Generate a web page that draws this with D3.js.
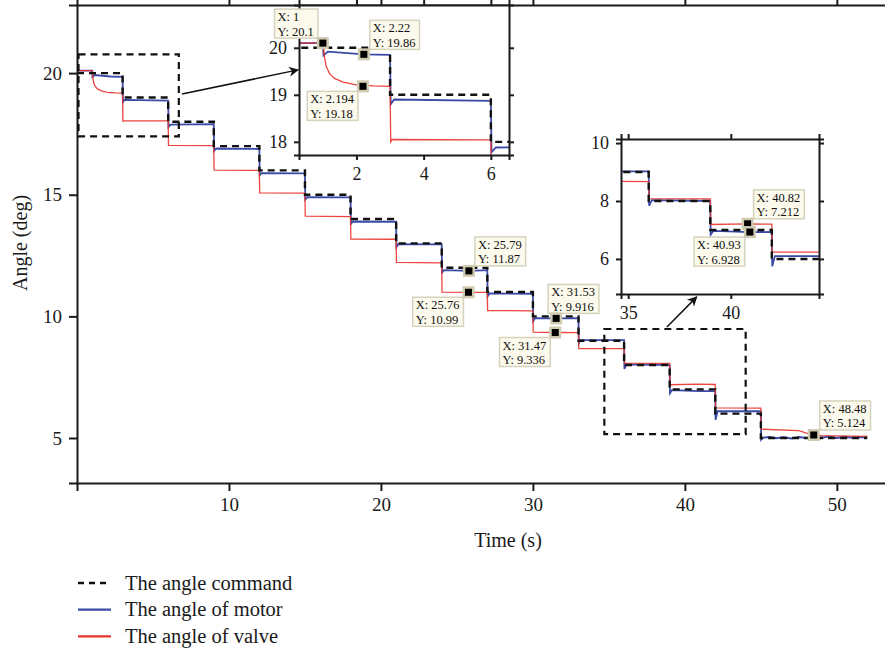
<!DOCTYPE html>
<html>
<head>
<meta charset="utf-8">
<script src="https://cdn.jsdelivr.net/npm/d3@7"></script>
<style>
body { margin: 0; background: #fff; }
svg { display: block; font-family: "Liberation Serif", "Times New Roman", serif; }
</style>
</head>
<body>
<div id="chart"></div>
<script>
// command: step times and levels (deg)
const commandTimes = [0, 3, 6, 9, 12, 15, 18, 21, 24, 27, 30, 33, 36, 39, 42, 45, 52]
const commandLevels = [20, 19, 18, 17, 16, 15, 14, 13, 12, 11, 10, 9, 8, 7, 6, 5]

// motor angle [t, deg]
const motorPoints = [
    [0, 20.1], [1, 20.1], [1.02, 19.84], [1.15, 19.92], [2.22, 19.86], [3, 19.85],
    [3.02, 18.8], [3.12, 18.9], [6, 18.87],
    [6.02, 17.78], [6.15, 17.88], [9, 17.9],
    [9.02, 16.8], [9.15, 16.9], [12, 16.88],
    [12.02, 15.8], [12.15, 15.89], [15, 15.88],
    [15.02, 14.8], [15.15, 14.9], [18, 14.89],
    [18.02, 13.8], [18.15, 13.9], [21, 13.89],
    [21.02, 12.85], [21.15, 12.97], [24, 12.96],
    [24.02, 11.8], [24.15, 11.9], [25.79, 11.87], [27, 11.9],
    [27.02, 10.82], [27.15, 10.94], [30, 10.93],
    [30.02, 9.8], [30.15, 9.93], [31.53, 9.916], [33, 9.93],
    [33.02, 8.9], [33.15, 9.02], [36, 9.02],
    [36.02, 7.84], [36.15, 8.03], [39, 8.0],
    [39.02, 6.84], [39.15, 6.97], [40.93, 6.928], [42, 6.93],
    [42.02, 5.75], [42.15, 6.1], [45, 6.1],
    [45.02, 4.93], [45.15, 5.02], [45.6, 5.04], [46, 4.99], [46.5, 5.03], [47, 4.98],
    [47.5, 5.04], [48, 5.0], [48.5, 5.05], [49, 5.01], [49.5, 5.06], [50, 5.0],
    [50.5, 5.05], [51, 5.01], [51.5, 5.04], [52, 5.03]
]

// valve angle [t, deg]
const valvePoints = [
    [0, 20.1], [1, 20.1], [1.05, 19.8], [1.1, 19.6], [1.2, 19.45], [1.35, 19.35],
    [1.6, 19.27], [2.0, 19.21], [2.5, 19.19], [3, 19.18],
    [3.02, 18.0], [3.06, 18.05], [6, 18.04],
    [6.02, 17.03], [9, 17.02],
    [9.02, 16.01], [12, 16.0],
    [12.02, 15.08], [15, 15.07],
    [15.02, 14.12], [18, 14.1],
    [18.02, 13.18], [21, 13.17],
    [21.02, 12.22], [24, 12.2],
    [24.02, 11.0], [25.76, 10.99], [27, 10.99],
    [27.02, 10.24], [30, 10.23],
    [30.02, 9.35], [31.47, 9.336], [33, 9.33],
    [33.02, 8.68], [36, 8.67],
    [36.02, 8.08], [39, 8.07],
    [39.02, 7.19], [40.82, 7.212], [42, 7.2],
    [42.02, 6.24], [45, 6.23],
    [45.02, 5.36], [47.5, 5.3], [48.2, 5.16], [48.48, 5.124], [49, 5.1], [52, 5.07]
]

const mainXTicks = [10, 20, 30, 40, 50]
const mainYTicks = [5, 10, 15, 20]
const inset1XTicks = [2, 4, 6]
const inset1YTicks = [18, 19, 20]
const inset2XTicks = [35, 40]
const inset2YTicks = [6, 8, 10]

// data tips: [x, y, placement]
const mainTips = [[25.79, 11.87, "ne"], [25.76, 10.99, "sw"], [31.53, 9.916, "n"], [31.47, 9.336, "sw"], [48.48, 5.124, "ne"]]
const inset1Tips = [[1, 20.1, "nw"], [2.22, 19.86, "ne"], [2.194, 19.18, "sw"]]
const inset2Tips = [[40.82, 7.212, "ne"], [40.93, 6.928, "sw"]]

// zoom boxes in main data coords [x0, x1, y0, y1]
const zoomBox1 = [0.1, 6.7, 17.4, 20.77]
const zoomBox2 = [34.7, 44.0, 5.16, 9.48]

const legendNames = ["The angle command", "The angle of motor", "The angle of valve"]

const blue = "#3a4aa6"
const red = "#e8322a"

const svg = d3.select("#chart").append("svg")
    .attr("width", 885)
    .attr("height", 652)

const defs = svg.append("defs")
defs.append("marker")
    .attr("id", "arrow")
    .attr("viewBox", "0 0 10 10")
    .attr("refX", 9).attr("refY", 5)
    .attr("markerWidth", 12).attr("markerHeight", 10)
    .attr("markerUnits", "userSpaceOnUse")
    .attr("orient", "auto")
    .append("path").attr("d", "M0,0 L10,5 L0,10 L3,5 z").attr("fill", "#111")

const commandPoints = commandTimes.map((t, i) => [t, commandLevels[Math.min(i, commandLevels.length - 1)]])

function drawPanel(g, x, y, id, xTicks, yTicks, fontSize, tickLen) {
    const [x0, x1] = x.range()
    const [y0, y1] = y.range()
    defs.append("clipPath").attr("id", id)
        .append("rect").attr("x", x0).attr("y", y1).attr("width", x1 - x0).attr("height", y0 - y1)

    const lines = g.append("g").attr("clip-path", `url(#${id})`)
    const line = d3.line().x(d => x(d[0])).y(d => y(d[1]))

    lines.append("path").datum(motorPoints)
        .attr("d", line).attr("fill", "none").attr("stroke", blue).attr("stroke-width", 1.8)
    lines.append("path").datum(valvePoints)
        .attr("d", line).attr("fill", "none").attr("stroke", red).attr("stroke-width", 1.3)
        .attr("stroke-opacity", 0.9)
    lines.append("path").datum(commandPoints)
        .attr("d", line.curve(d3.curveStepAfter)).attr("fill", "none").attr("stroke", "#111")
        .attr("stroke-width", 2.4).attr("stroke-dasharray", "7,5")

    const fmt = d3.format("d")
    const axes = [
        [d3.axisBottom(x).tickValues(xTicks).tickFormat(fmt), `translate(0,${y0})`],
        [d3.axisLeft(y).tickValues(yTicks).tickFormat(fmt), `translate(${x0},0)`],
        [d3.axisTop(x).tickValues(xTicks).tickFormat(""), `translate(0,${y1})`],
        [d3.axisRight(y).tickValues(yTicks).tickFormat(""), `translate(${x1},0)`]
    ]
    axes.forEach(([ax, tr]) => {
        const a = g.append("g").attr("transform", tr)
            .call(ax.tickSizeOuter(0).tickSize(tickLen).tickPadding(7))
        a.select(".domain").attr("stroke", "#1a1a1a").attr("stroke-width", 2)
        a.selectAll(".tick line").attr("stroke", "#1a1a1a").attr("stroke-width", 2)
        a.selectAll("text").attr("font-size", fontSize).attr("fill", "#1a1a1a")
            .attr("font-family", "Liberation Serif, serif")
    })
}

function drawTips(g, x, y, tips) {
    tips.forEach(([tx, ty, pos]) => {
        const mx = x(tx), my = y(ty)
        const tg = g.append("g")
        const box = tg.append("rect")
        const l1 = tg.append("text").attr("x", 0).attr("y", 10)
            .attr("font-size", 12.5).attr("fill", "#111").text(`X: ${tx}`)
        const l2 = tg.append("text").attr("x", 0).attr("y", 24.5)
            .attr("font-size", 12.5).attr("fill", "#111").text(`Y: ${ty}`)
        const w = Math.max(l1.node().getComputedTextLength(), l2.node().getComputedTextLength()) + 7
        const h = 29
        let bx, by
        if (pos === "ne") { bx = mx + 6; by = my - 34 }
        if (pos === "n") { bx = mx - 8; by = my - 34 }
        if (pos === "nw") { bx = mx - 5 - w; by = my - 34 }
        if (pos === "sw") { bx = mx - 5 - w; by = my + 5 }
        box.attr("x", -3).attr("y", -2).attr("width", w).attr("height", h)
            .attr("fill", "#fbfaec").attr("stroke", "#d6d3bd").attr("stroke-width", 1.5)
        tg.attr("transform", `translate(${bx + 3},${by + 2})`)
        g.append("rect").attr("x", mx - 6).attr("y", my - 6).attr("width", 12).attr("height", 12)
            .attr("fill", "#cfcab0")
        g.append("rect").attr("x", mx - 3.5).attr("y", my - 3.5).attr("width", 7).attr("height", 7)
            .attr("fill", "#000")
    })
}

// main chart
const x = d3.scaleLinear().domain([0, 53.3]).range([77, 887])
const y = d3.scaleLinear().domain([3.15, 22.8]).range([483, 5])
const main = svg.append("g")
drawPanel(main, x, y, "clipMain", mainXTicks, mainYTicks, 19, 8)

// zoom boxes
;[zoomBox1, zoomBox2].forEach(b => {
    main.append("rect")
        .attr("x", x(b[0])).attr("y", y(b[3]))
        .attr("width", x(b[1]) - x(b[0])).attr("height", y(b[2]) - y(b[3]))
        .attr("fill", "none").attr("stroke", "#111").attr("stroke-width", 2.2)
        .attr("stroke-dasharray", "7,5")
})

drawTips(main, x, y, mainTips)

svg.append("text")
    .attr("x", 508).attr("y", 547)
    .attr("text-anchor", "middle").attr("font-size", 20).attr("fill", "#1a1a1a")
    .text("Time (s)")
svg.append("text")
    .attr("transform", "translate(27,243) rotate(-90)")
    .attr("text-anchor", "middle").attr("font-size", 20).attr("fill", "#1a1a1a")
    .text("Angle (deg)")

// inset 1
const x1 = d3.scaleLinear().domain([0.29, 6.54]).range([299, 509])
const y1 = d3.scaleLinear().domain([17.72, 20.91]).range([155, 5])
const in1 = svg.append("g")
in1.append("rect").attr("x", 299).attr("y", 5).attr("width", 210).attr("height", 150).attr("fill", "#fff")
drawPanel(in1, x1, y1, "clipIn1", inset1XTicks, inset1YTicks, 18, 5)
drawTips(in1, x1, y1, inset1Tips)

// inset 2
const x2 = d3.scaleLinear().domain([34.65, 44.3]).range([621, 819])
const y2 = d3.scaleLinear().domain([4.79, 10.14]).range([294, 139])
const in2 = svg.append("g")
in2.append("rect").attr("x", 621).attr("y", 139).attr("width", 198).attr("height", 155).attr("fill", "#fff")
drawPanel(in2, x2, y2, "clipIn2", inset2XTicks, inset2YTicks, 18, 5)
drawTips(in2, x2, y2, inset2Tips)

// arrows from zoom boxes to insets
svg.append("line")
    .attr("x1", x(6.91)).attr("y1", y(19.14))
    .attr("x2", x1(0.26)).attr("y2", y1(19.53))
    .attr("stroke", "#111").attr("stroke-width", 1.5).attr("marker-end", "url(#arrow)")
svg.append("line")
    .attr("x1", x(38.82)).attr("y1", y(9.56))
    .attr("x2", x2(38.34)).attr("y2", y2(4.69))
    .attr("stroke", "#111").attr("stroke-width", 1.5).attr("marker-end", "url(#arrow)")

// legend
const legend = svg.append("g").attr("transform", "translate(78,583)")
legendNames.forEach((name, i) => {
    const row = legend.append("g").attr("transform", `translate(0,${i * 26.7})`)
    const ln = row.append("line").attr("x1", 0).attr("x2", 33).attr("y1", 0).attr("y2", 0)
        .attr("stroke-width", i === 0 ? 2.4 : 2.2)
    if (i === 0) ln.attr("stroke", "#111").attr("stroke-dasharray", "6,5")
    if (i === 1) ln.attr("stroke", blue)
    if (i === 2) ln.attr("stroke", red)
    row.append("text").attr("x", 47).attr("y", 6.5)
        .attr("font-size", 20.5).attr("fill", "#1a1a1a")
        .text(name)
})
</script>
</body>
</html>
